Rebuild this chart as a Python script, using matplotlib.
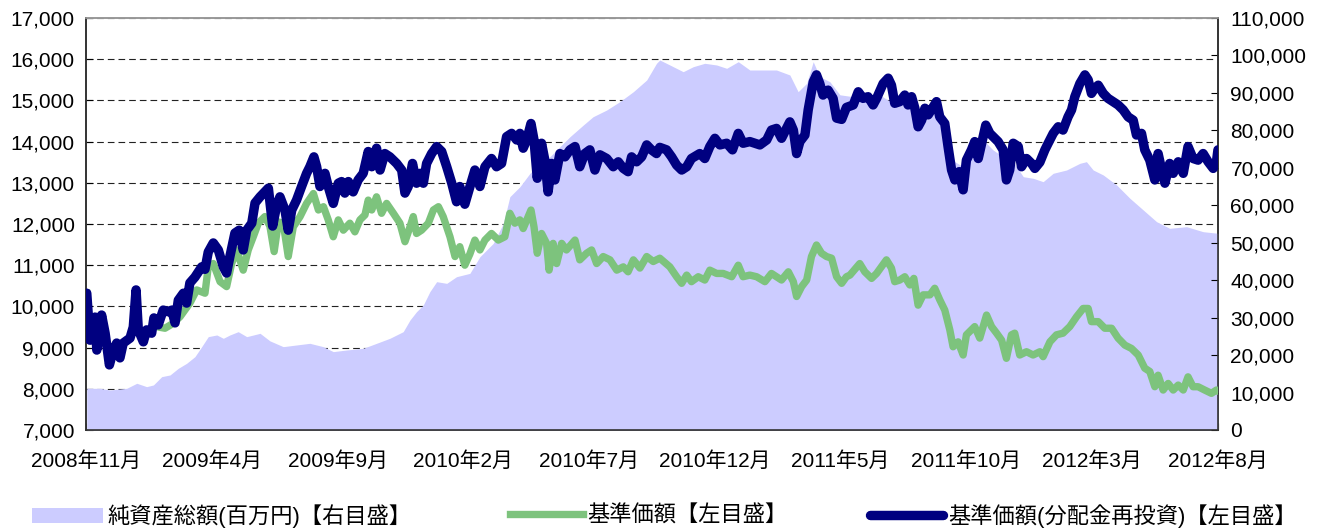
import matplotlib
matplotlib.use("Agg")
from matplotlib import pyplot as plt
from matplotlib.patches import Patch
from matplotlib.lines import Line2D
from matplotlib.ticker import StrMethodFormatter, FixedLocator

plt.rcParams['font.family'] = ['Liberation Sans', 'Noto Sans CJK JP']

# x = months since 2008-11 start
# 純資産総額 (百万円, right axis)
nav_total_m = [0.03, 0.56, 0.95, 1.62, 2.02, 2.41, 2.68, 3.01, 3.34, 3.67, 4.00, 4.33, 4.60, 4.86,
               5.20, 5.46, 5.72, 6.05, 6.39, 6.92, 7.31, 7.84, 8.37, 8.90, 9.43, 9.83, 10.36, 11.02,
               11.55, 12.08, 12.61, 12.88, 13.14, 13.41, 13.67, 13.94, 14.34, 14.73, 15.26, 15.66,
               16.19, 16.59, 16.85, 17.25, 17.65, 18.04, 18.44, 18.84, 19.24, 19.77, 20.16, 20.70,
               21.22, 21.76, 22.29, 22.68, 22.81, 23.21, 23.74, 24.14, 24.60, 25.07, 25.47, 25.93,
               26.39, 26.92, 27.45, 27.98, 28.31, 28.65, 28.91, 29.17, 29.57, 29.97, 30.50, 31.03,
               31.56, 32.09, 32.62, 33.15, 33.68, 34.08, 34.34, 34.54, 34.87, 35.27, 35.67, 36.06,
               36.46, 36.86, 37.26, 37.66, 38.05, 38.45, 38.98, 39.51, 39.77, 40.04, 40.44, 40.97,
               41.50, 42.03, 42.56, 43.08, 43.75, 44.41, 45.00]
nav_total = [11130, 11130, 10680, 11130, 12470, 11570, 12020, 14240, 14690, 16470, 17800, 19580, 22250, 24920,
             25370, 24480, 25370, 26250, 24920, 25810, 23800, 22250, 22700, 23140, 22250, 20920, 21360, 21810,
             23140, 24480, 26250, 29370, 31590, 33380, 36930, 39600, 39150, 40930, 41820, 46270,
             49830, 55170, 62290, 64960, 68550, 71200, 72960, 75640, 78310, 81430, 83650, 85440,
             87660, 90330, 93450, 97910, 98790, 97460, 95670, 97000, 97910, 97460, 96570, 98340,
             96120, 96120, 96120, 94790, 90330, 92570, 98340, 94330, 93000, 89500, 88990, 88500,
             89450, 87230, 86780, 85440, 84560, 81890, 74760, 71640, 70300, 73880, 77430, 74760,
             72970, 71640, 67630, 67200, 66300, 68540, 69420, 71200, 71640, 69420, 68090, 65420,
             61860, 58740, 55620, 53850, 54280, 52950, 52520]

# 基準価額 (left axis)
price_m = [0.03, 0.16, 0.36, 0.43, 0.62, 0.76, 0.93, 1.09, 1.22, 1.35, 1.48, 1.75, 1.88, 1.99, 2.08,
           2.28, 2.41, 2.61, 2.70, 2.87, 3.14, 3.47, 3.74, 4.13, 4.40, 4.73, 4.86, 5.06, 5.33, 5.59,
           5.79, 5.99, 6.25, 6.45, 6.65, 6.85, 7.11, 7.31, 7.48, 7.65, 7.84, 8.04, 8.24, 8.51, 8.77,
           9.04, 9.24, 9.44, 9.63, 9.83, 10.03, 10.23, 10.49, 10.69, 10.89, 11.09, 11.22, 11.36,
           11.55, 11.75, 11.95, 12.22, 12.48, 12.68, 12.88, 13.01, 13.14, 13.34, 13.61, 13.81,
           14.01, 14.20, 14.47, 14.67, 14.86, 15.06, 15.26, 15.46, 15.66, 15.86, 16.12, 16.39,
           16.65, 16.85, 17.05, 17.25, 17.38, 17.69, 17.81, 17.94, 18.11, 18.31, 18.41, 18.57,
           18.71, 18.91, 19.10, 19.44, 19.63, 19.90, 20.10, 20.30, 20.56, 20.83, 21.10, 21.36,
           21.55, 21.76, 22.02, 22.29, 22.55, 22.81, 23.21, 23.48, 23.68, 23.88, 24.07, 24.34,
           24.60, 24.80, 25.07, 25.33, 25.67, 25.93, 26.12, 26.39, 26.66, 26.99, 27.25, 27.65,
           27.92, 28.12, 28.25, 28.45, 28.65, 28.84, 29.04, 29.24, 29.44, 29.64, 29.84, 30.04,
           30.23, 30.37, 30.76, 30.96, 31.23, 31.43, 31.82, 32.02, 32.15, 32.35, 32.55, 32.75,
           32.91, 33.08, 33.28, 33.55, 33.74, 33.94, 34.14, 34.34, 34.47, 34.67, 34.87, 35.00,
           35.33, 35.53, 35.80, 36.00, 36.20, 36.40, 36.59, 36.79, 36.92, 37.12, 37.39, 37.65,
           37.92, 38.05, 38.32, 38.58, 38.84, 39.11, 39.38, 39.64, 39.84, 39.97, 40.24, 40.50,
           40.77, 41.03, 41.30, 41.56, 41.83, 42.09, 42.29, 42.49, 42.62, 42.82, 43.02, 43.22,
           43.42, 43.62, 43.81, 44.01, 44.21, 44.47, 44.74, 44.94, 45.00]
price = [10320, 9180, 9740, 8940, 9790, 9350, 8580, 8940, 9110, 8750, 9110, 9230, 9500, 10400, 9430,
         9140, 9430, 9350, 9680, 9500, 9470, 9590, 9750, 10080, 10400, 10320, 10960, 11040, 10600, 10480,
         11040, 11370, 10880, 11370, 11690, 12020, 12180, 11950, 11330, 12050, 12020, 11210, 11930, 12180, 12500,
         12740, 12340, 12420, 12100, 11690, 12100, 11850, 12020, 11810, 12100, 12220, 12580, 12340,
         12660, 12260, 12500, 12260, 12020, 11570, 11930, 12180, 11770, 11850, 12020, 12340,
         12420, 12180, 11690, 11210, 11450, 11000, 11270, 11610, 11370, 11610, 11770, 11610,
         11690, 12260, 12020, 12100, 11890, 12340, 11930, 11290, 11770, 11530, 10880, 11530,
         11040, 11530, 11370, 11610, 11130, 11290, 11370, 11040, 11210, 11130, 10880, 10960,
         10840, 11130, 10930, 11210, 11090, 11170, 10960, 10720, 10560, 10760, 10600, 10720,
         10640, 10880, 10800, 10800, 10720, 11000, 10720, 10760, 10720, 10600, 10800, 10640,
         10840, 10600, 10240, 10480, 10640, 11210, 11490, 11290, 11210, 11170, 10720, 10560,
         10720, 10760, 11040, 10840, 10680, 10800, 11130, 10930, 10600, 10640, 10720, 10520,
         10680, 10030, 10280, 10280, 10440, 10160, 9910, 9430, 9020, 9140, 8820, 9310,
         9510, 9230, 9790, 9510, 9350, 9180, 8740, 9310, 9350, 8820, 8900, 8820,
         8900, 8780, 9140, 9310, 9350, 9510, 9750, 9950, 9950, 9630, 9630, 9470,
         9470, 9230, 9060, 8980, 8820, 8500, 8420, 8050, 8330, 7970, 8130, 7970,
         8090, 7970, 8290, 8050, 8050, 7970, 7890, 7970, 7950]

# 基準価額(分配金再投資) (left axis)
reinv_m = [0.03, 0.16, 0.36, 0.43, 0.62, 0.76, 0.93, 1.09, 1.22, 1.35, 1.48, 1.75, 1.88, 1.99, 2.08,
           2.28, 2.41, 2.61, 2.70, 2.87, 3.07, 3.27, 3.41, 3.54, 3.67, 3.87, 4.00, 4.13, 4.33, 4.60,
           4.73, 4.86, 5.06, 5.26, 5.46, 5.59, 5.72, 5.92, 6.09, 6.25, 6.39, 6.59, 6.72, 6.92, 7.25,
           7.42, 7.58, 7.71, 7.91, 8.04, 8.18, 8.37, 8.57, 8.77, 8.90, 9.06, 9.17, 9.30, 9.50, 9.63,
           9.83, 10.03, 10.16, 10.29, 10.43, 10.62, 10.82, 11.02, 11.22, 11.36, 11.55, 11.69, 11.88,
           12.08, 12.35, 12.55, 12.68, 12.81, 12.98, 13.14, 13.28, 13.41, 13.54, 13.74, 13.94, 14.14,
           14.34, 14.54, 14.73, 14.86, 15.06, 15.26, 15.46, 15.66, 15.86, 16.12, 16.32, 16.52, 16.72,
           16.92, 17.12, 17.25, 17.38, 17.52, 17.69, 17.81, 17.94, 18.11, 18.24, 18.37, 18.51, 18.64,
           18.84, 19.04, 19.24, 19.44, 19.63, 19.83, 20.03, 20.23, 20.43, 20.70, 20.96, 21.16, 21.36,
           21.55, 21.69, 21.89, 22.09, 22.29, 22.48, 22.68, 22.81, 23.08, 23.28, 23.48, 23.68, 23.88,
           24.07, 24.40, 24.60, 24.80, 25.00, 25.20, 25.47, 25.70, 25.93, 26.12, 26.39, 26.79, 27.06,
           27.25, 27.45, 27.65, 27.98, 28.12, 28.25, 28.38, 28.58, 28.71, 28.91, 29.04, 29.17, 29.30,
           29.50, 29.70, 29.84, 30.04, 30.23, 30.50, 30.70, 30.89, 31.09, 31.29, 31.43, 31.69, 31.89,
           32.02, 32.15, 32.35, 32.55, 32.68, 32.82, 32.95, 33.08, 33.22, 33.35, 33.48, 33.81, 33.94,
           34.14, 34.27, 34.41, 34.54, 34.71, 34.87, 35.00, 35.20, 35.33, 35.47, 35.77, 35.93, 36.26,
           36.46, 36.59, 36.72, 36.86, 37.06, 37.19, 37.39, 37.59, 37.72, 37.92, 38.12, 38.25, 38.45,
           38.65, 38.84, 39.04, 39.18, 39.31, 39.51, 39.71, 39.84, 39.97, 40.10, 40.24, 40.44, 40.63,
           41.03, 41.23, 41.43, 41.63, 41.76, 41.96, 42.09, 42.29, 42.49, 42.62, 42.75, 42.89, 43.08,
           43.22, 43.42, 43.62, 43.81, 44.01, 44.21, 44.41, 44.61, 44.81, 44.94, 45.00]
reinv = [10320, 9180, 9740, 8940, 9790, 9350, 8580, 8940, 9110, 8750, 9110, 9230, 9500, 10400, 9430,
         9140, 9430, 9350, 9720, 9550, 9910, 9870, 9910, 9600, 10150, 10320, 10080, 10570, 10710, 10960,
         10900, 11320, 11540, 11370, 10960, 10810, 11210, 11780, 11850, 11370, 11850, 12020, 12510, 12660, 12870,
         11950, 12450, 12660, 12340, 11850, 12340, 12580, 12910, 13230, 13390, 13630, 13390, 12910, 13230, 12910,
         12500, 12990, 13030, 12750, 13030, 12780, 13070, 13230, 13760, 13390, 13840, 13310, 13710,
         13630, 13470, 13310, 12750, 12910, 13470, 12990, 13230, 12990, 13470, 13710, 13880, 13760,
         13390, 12990, 12540, 12910, 12480, 12900, 13310, 12910, 13390, 13590, 13390, 13470, 14120,
         14200, 14040, 14200, 13840, 14040, 14440, 14040, 13110, 13960, 13550, 12780, 13470, 13070,
         13710, 13630, 13800, 13880, 13390, 13710, 13800, 13310, 13680, 13590, 13390, 13510, 13350,
         13270, 13630, 13510, 13630, 13920, 13800, 13710, 13860, 13800, 13630, 13430, 13310, 13390,
         13590, 13710, 13590, 13880, 14080, 13920, 13960, 13800, 14200, 13960, 14000, 13920, 14040,
         14280, 14320, 14080, 14480, 14280, 13710, 14000, 14160, 14770, 15450, 15620, 15410, 15130,
         15250, 15050, 14570, 14540, 14830, 14890, 15210, 15050, 15090, 14890, 15050, 15410, 15540,
         15370, 14930, 14970, 15130, 14890, 15090, 14810, 14360, 14520, 14810, 14650, 14970, 14600,
         14440, 13880, 13310, 13070, 13270, 12830, 13550, 13800, 14000, 13590, 14400, 14200, 14000,
         13800, 13070, 13310, 13960, 13880, 13390, 13590, 13470, 13350, 13500, 13800, 13960, 14200,
         14360, 14280, 14600, 14770, 15090, 15410, 15620, 15500, 15170, 15290, 15370, 15170, 15050,
         14890, 14770, 14600, 14520, 14160, 14200, 13800, 13550, 13070, 13710, 13350, 12990, 13470,
         13230, 13510, 13230, 13880, 13590, 13550, 13710, 13510, 13350, 13510, 13800]

tick_months = [0, 5, 10, 15, 20, 25, 30, 35, 40, 45]
tick_labels = ['2008年11月', '2009年4月', '2009年9月', '2010年2月', '2010年7月',
               '2010年12月', '2011年5月', '2011年10月', '2012年3月', '2012年8月']

area_color = '#ccccff'
green = '#7dc37d'
navy = '#000080'

fig = plt.figure(figsize=(13.21, 5.30), dpi=100)
ax = fig.add_axes([0.0651, 0.1887, 0.8569, 0.7773])
ax2 = ax.twinx()   # area, right scale
ax3 = ax.twinx()   # lines, left scale

# left axis: grid and labels
ax.set_xlim(0, 45)
ax.set_ylim(7000, 17000)
ax.yaxis.set_major_locator(FixedLocator(range(7000, 17001, 1000)))
ax.yaxis.set_major_formatter(StrMethodFormatter('{x:,.0f}'))
ax.grid(axis='y', color='#222222', linestyle=(0, (6, 3.6)), linewidth=0.8)
ax.set_xticks(tick_months)
ax.set_xticklabels(tick_labels)
ax.tick_params(axis='x', direction='in', length=5, pad=15, labelsize=15)
ax.tick_params(axis='y', direction='in', length=5, pad=8, labelsize=15)

# right axis: area
ax2.fill_between(nav_total_m, nav_total, 0, color=area_color, linewidth=0)
ax2.set_ylim(0, 110000)
ax2.yaxis.set_major_locator(FixedLocator(range(0, 110001, 10000)))
ax2.yaxis.set_major_formatter(StrMethodFormatter('{x:,.0f}'))
ax2.tick_params(axis='y', direction='in', length=5, pad=9, labelsize=15)

# lines on top
ax3.plot(price_m, price, color=green, linewidth=5.3, solid_joinstyle='round')
ax3.plot(reinv_m, reinv, color=navy, linewidth=6.8, solid_joinstyle='round', solid_capstyle='round')
ax3.set_ylim(7000, 17000)
ax3.set_xlim(0, 45)
ax3.axis('off')

for a in (ax, ax2):
    for s in a.spines.values():
        s.set_color('#333333')
        s.set_linewidth(1.2)
ax.spines['top'].set_color('#999999')
ax2.spines['top'].set_color('#999999')

# legends
leg_kw = dict(frameon=False, fontsize=16, handletextpad=0.2, borderaxespad=0, borderpad=0)
fig.legend([Patch(facecolor=area_color, edgecolor='none')], ['純資産総額(百万円)【右目盛】'],
           loc='center left', bbox_to_anchor=(0.0242, 0.026), handlelength=3.2, **leg_kw)
fig.legend([Line2D([], [], color=green, linewidth=5.3)], ['基準価額【左目盛】'],
           loc='center left', bbox_to_anchor=(0.386, 0.026), handlelength=3.3, **leg_kw)
fig.legend([Line2D([], [], color=navy, linewidth=6.8, solid_capstyle='round')], ['基準価額(分配金再投資)【左目盛】'],
           loc='center left', bbox_to_anchor=(0.6586, 0.026), handlelength=3.3, **leg_kw)

fig.savefig('out.png', dpi=100)
